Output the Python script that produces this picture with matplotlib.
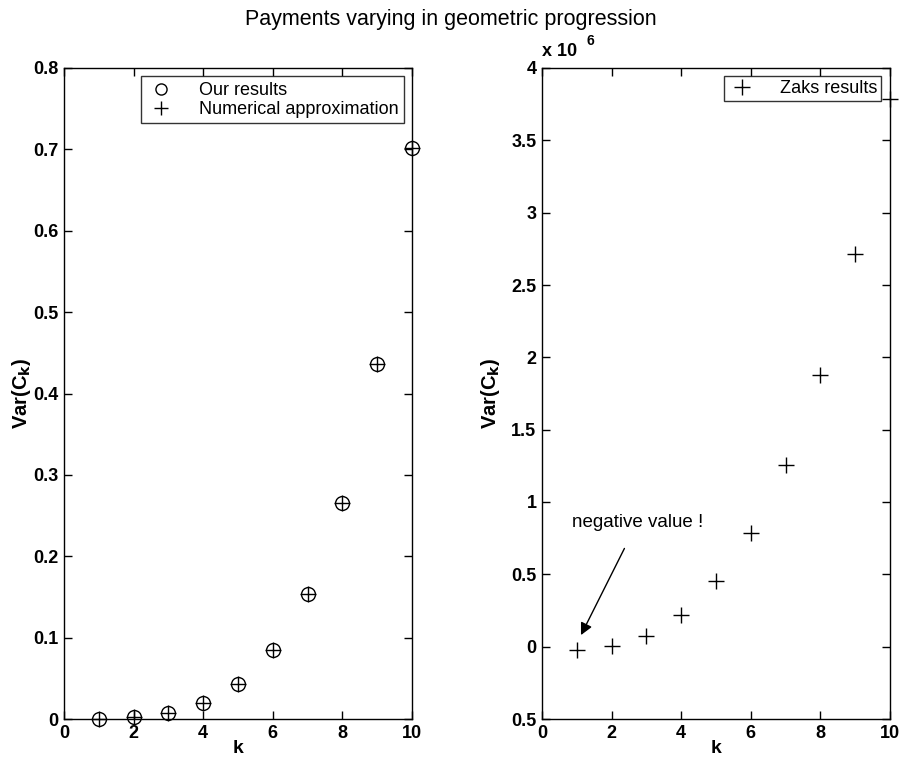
import numpy as np
import matplotlib.pyplot as plt

plt.rcParams['font.family'] = ['Liberation Sans', 'DejaVu Sans']

# data
k = np.arange(1, 11)
our_results = [0.0005, 0.002, 0.007, 0.020, 0.0425, 0.085, 0.1535, 0.265, 0.436, 0.702]
numerical = [0.0005, 0.002, 0.007, 0.020, 0.0425, 0.085, 0.1535, 0.265, 0.436, 0.702]
zaks = [-0.02e6, 0.003e6, 0.076e6, 0.22e6, 0.451e6, 0.786e6, 1.253e6, 1.88e6, 2.714e6, 3.787e6]

left_yticks = [0, 0.1, 0.2, 0.3, 0.4, 0.5, 0.6, 0.7, 0.8]
right_yticks = [-0.5, 0, 0.5, 1, 1.5, 2, 2.5, 3, 3.5, 4]
xticks = [0, 2, 4, 6, 8, 10]

fig = plt.figure(figsize=(9.02, 7.65), dpi=100)
ax1 = fig.add_axes([64/902, 46/765, 348/902, 651/765])
ax2 = fig.add_axes([542/902, 46/765, 348/902, 651/765])

fig.suptitle("Payments varying in geometric progression", y=0.988, fontsize=15.5)


def style(ax):
    ax.tick_params(direction='in', top=True, right=True, length=6, width=1,
                   labelsize=13, pad=4)
    for lab in ax.get_xticklabels() + ax.get_yticklabels():
        lab.set_fontweight('bold')
    for s in ax.spines.values():
        s.set_linewidth(1)
    ax.set_xlabel("k", fontsize=14, fontweight='bold', labelpad=-1)
    ax.set_ylabel("Var(C$_\\mathbf{k}$)", fontsize=14.5, fontweight='bold')


# left panel
ax1.plot(k, our_results, 'o', mfc='none', mec='black', ms=10, mew=1,
         label="Our results", clip_on=False)
ax1.plot(k, numerical, '+', color='black', ms=12, mew=1,
         label="Numerical approximation", clip_on=False)
ax1.set_xlim(0, 10)
ax1.set_ylim(0, 0.8)
ax1.set_xticks(xticks)
ax1.set_yticks(left_yticks)
ax1.set_yticklabels([f"{v:g}" for v in left_yticks])
style(ax1)
ax1.yaxis.set_label_coords(-0.088, 0.5)
leg1 = ax1.legend(loc='upper right', bbox_to_anchor=(0.977, 0.987), fontsize=13,
                  frameon=True, fancybox=False, edgecolor='black',
                  borderpad=0.3, handletextpad=1.3, labelspacing=0.12,
                  handlelength=1.6, borderaxespad=0, markerscale=0.8)
leg1.get_frame().set_linewidth(1)

# right panel (values shown in units of 10^6)
zaks_scaled = np.array(zaks) / 1e6
ax2.plot(k, zaks_scaled, '+', color='black', ms=12, mew=1,
         label="Zaks results", clip_on=False)
ax2.set_xlim(0, 10)
ax2.set_ylim(-0.5, 4)
ax2.set_xticks(xticks)
ax2.set_yticks(right_yticks)
ax2.set_yticklabels([f"{abs(v):g}" for v in right_yticks])
style(ax2)
ax2.yaxis.set_label_coords(-0.115, 0.5)
leg2 = ax2.legend(loc='upper right', bbox_to_anchor=(0.975, 0.987), fontsize=13,
                  frameon=True, fancybox=False, edgecolor='black',
                  borderpad=0.2, handletextpad=1.3, handlelength=1.6,
                  borderaxespad=0)
leg2.get_frame().set_linewidth(1)

ax2.text(0.0, 1.012, "x 10", transform=ax2.transAxes, fontsize=13,
         fontweight='bold', ha='left', va='bottom')
ax2.text(0.128, 1.03, "6", transform=ax2.transAxes, fontsize=10,
         fontweight='bold', ha='left', va='bottom')

ax2.annotate("negative value !", xy=(1.12, 0.08), xytext=(0.86, 0.86),
             fontsize=13.5, ha='left', va='center',
             arrowprops=dict(arrowstyle='-|>', color='black', lw=1,
                             mutation_scale=18, shrinkA=12, shrinkB=0))

fig.savefig("out.png", dpi=100)
